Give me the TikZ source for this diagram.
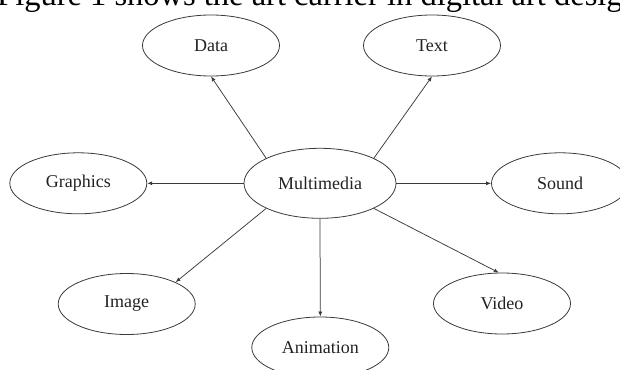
\documentclass[tikz,border=0pt]{standalone}
\usepackage{fontspec}
\setmainfont{Liberation Serif}
\usetikzlibrary{shapes.geometric,arrows.meta}
\definecolor{linec}{HTML}{3A3A3A}
\definecolor{textc}{HTML}{222222}
\tikzset{
  leaf/.style={ellipse, draw=linec, line width=0.8pt, minimum width=137pt, minimum height=61pt, inner sep=0pt, text=textc, font=\fontsize{18}{20}\selectfont},
  hub/.style={leaf, minimum width=152pt, minimum height=70pt},
  conn/.style={draw=linec, line width=0.75pt, -{Latex[length=5pt,width=4pt]}},
  titletext/.style={anchor=base west, inner sep=0pt, font=\fontsize{32.5}{36}\selectfont, text=black}
}
\begin{document}
\begin{tikzpicture}[x=1pt,y=-1pt]
\useasboundingbox (0,0) rectangle (620,369);
\clip (0,0) rectangle (620,369);
\node[titletext] (title) at (-3,6) {Figure 1 shows the art carrier in digital art design};
\node[hub] (mm) at (320,183.3) {Multimedia};
\node[leaf] (data) at (211,45.5) {Data};
\node[leaf] (text) at (432,45.5) {Text};
\node[leaf] (graphics) at (78.3,183.3) {Graphics};
\node[leaf] (sound) at (560,183.3) {Sound};
\node[leaf] (image) at (126.7,304) {Image};
\node[leaf] (anim) at (320.3,347.5) {Animation};
\node[leaf] (video) at (502,303.5) {Video};
\draw[conn] (mm.155) -- (data.south);
\draw[conn] (mm.25) -- (text.south);
\draw[conn] (mm.west) -- (graphics.east);
\draw[conn] (mm.east) -- (sound.west);
\draw[conn] (mm.205) -- (image.24);
\draw[conn] (mm.south) -- (anim.north);
\draw[conn] (mm.335) -- (video.96);
\end{tikzpicture}
\end{document}
